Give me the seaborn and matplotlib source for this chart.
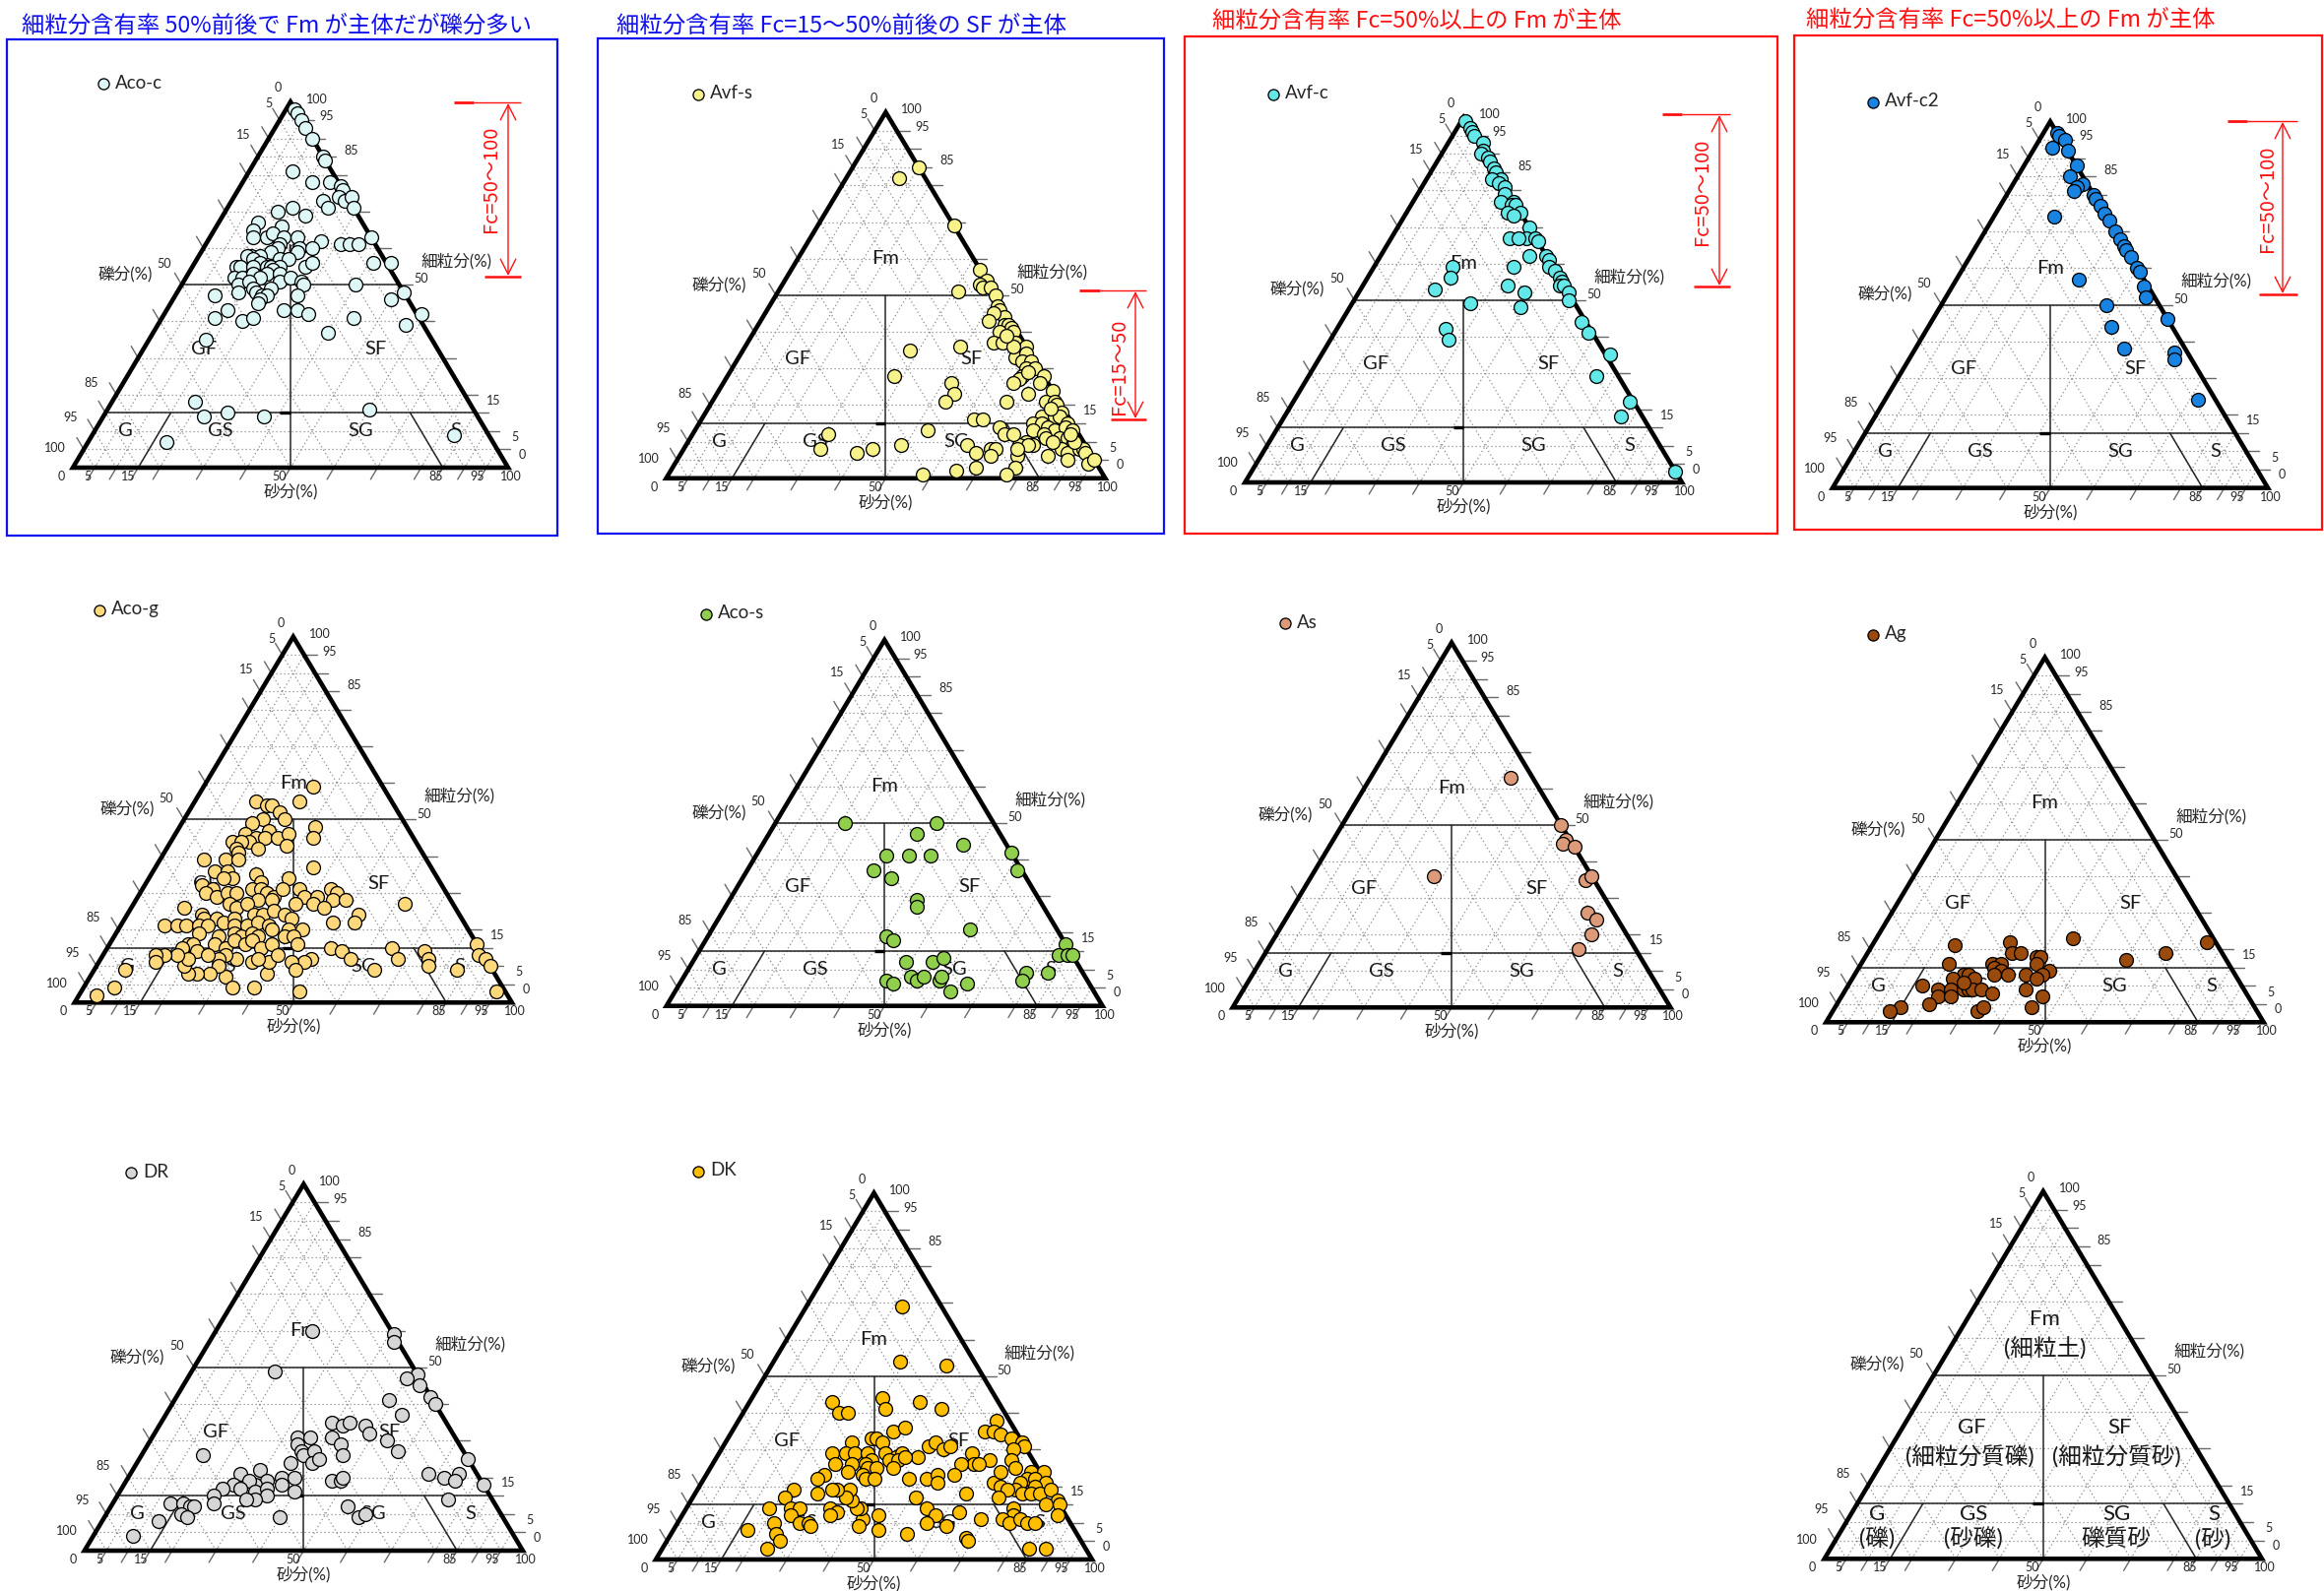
import matplotlib
matplotlib.use("Agg")
import matplotlib.pyplot as plt
import seaborn as sns
import numpy as np
import pandas as pd
from matplotlib.patches import Polygon, Rectangle

# ------------------------------------------------------------------
# Grain-size composition of each sample: sand (%) and fines (%);
# gravel (%) is the remainder 100 - sand - fines.
# ------------------------------------------------------------------
aco_c_sand = [2, 3, 5, 7, 10, 15, 16, 10, 16, 20, 23, 24, 24, 26, 27, 29, 21, 23, 15, 12,
              19, 9, 15, 9, 10, 13, 14, 17, 20, 37, 26, 31, 33, 35, 17, 17, 22, 25, 22, 12,
              16, 11, 14, 13, 10, 11, 15, 19, 21, 26, 27, 41, 45, 14, 17, 18, 20, 19, 18, 21,
              11, 13, 15, 17, 22, 24, 27, 13, 15, 17, 21, 28, 14, 18, 20, 21, 28, 40, 52, 20,
              20, 9, 27, 30, 33, 50, 59, 14, 12, 19, 21, 44, 57, 40, 13, 19, 23, 28, 37, 60,
              18, 83]
aco_c_fines = [98, 97, 95, 93, 90, 85, 84, 81, 78, 78, 77, 76, 74, 73, 74, 71, 73, 71, 71, 70,
               69, 67, 66, 65, 63, 63, 64, 63, 63, 63, 62, 61, 61, 61, 61, 60, 60, 60, 59, 58,
               59, 58, 58, 57, 55, 55, 56, 57, 57, 55, 56, 56, 56, 55, 55, 55, 55, 54, 53, 53,
               52, 52, 53, 52, 51, 52, 51, 50, 51, 49, 49, 50, 48, 48, 47, 47, 47, 50, 48, 46,
               45, 47, 43, 43, 42, 46, 42, 43, 41, 40, 41, 41, 39, 37, 35, 18, 14, 15, 14, 16,
               7, 9]

avf_s_sand = [15, 12, 31, 43, 46, 45, 46, 48, 41, 50, 52, 53, 55, 52, 56, 52, 57, 58, 56, 59,
              56, 58, 61, 64, 49, 38, 63, 65, 65, 67, 67, 69, 67, 72, 67, 66, 72, 76, 71, 76,
              78, 79, 81, 77, 80, 81, 84, 76, 78, 80, 82, 84, 77, 80, 81, 84, 86, 88, 77, 79,
              76, 78, 86, 88, 90, 91, 92, 89, 84, 94, 95, 77, 78, 77, 76, 69, 71, 73, 67, 62,
              64, 64, 67, 70, 71, 71, 69, 65, 58, 52, 54, 53, 38, 53, 49, 43, 40, 31, 31, 83,
              86, 78, 68, 61, 58, 88, 86]
avf_s_fines = [85, 82, 69, 57, 54, 53, 52, 52, 51, 50, 47, 46, 44, 45, 42, 43, 42, 41, 40, 40,
               37, 37, 37, 36, 36, 35, 33, 34, 32, 32, 30, 30, 28, 28, 27, 26, 26, 24, 23, 21,
               21, 20, 18, 17, 17, 17, 15, 15, 15, 14, 13, 14, 13, 12, 11, 11, 11, 9, 10, 9,
               9, 9, 8, 7, 8, 8, 7, 5, 6, 4, 5, 6, 3, 1, 8, 14, 12, 12, 21, 16,
               16, 9, 7, 8, 8, 6, 3, 2, 1, 26, 23, 21, 28, 13, 9, 8, 7, 12, 8, 10,
               13, 19, 29, 36, 39, 10, 12]

avf_c_sand = [1, 3, 4, 5, 8, 9, 9, 11, 12, 14, 15, 17, 15, 17, 19, 20, 23, 20, 23, 24,
              26, 23, 25, 30, 31, 27, 29, 33, 34, 34, 38, 39, 40, 42, 44, 45, 45, 46, 48, 49,
              32, 18, 19, 17, 33, 38, 27, 39, 25, 27, 55, 58, 66, 66, 77, 77, 97]
avf_c_fines = [99, 97, 96, 95, 93, 91, 90, 89, 88, 86, 85, 83, 83, 82, 81, 79, 77, 77, 76, 76,
               74, 74, 73, 70, 67, 67, 67, 67, 66, 62, 62, 61, 59, 58, 56, 55, 54, 54, 52, 50,
               59, 59, 56, 53, 54, 52, 49, 48, 42, 39, 44, 41, 35, 29, 22, 18, 3]

avf_c2_sand = [3, 4, 6, 4, 8, 12, 12, 16, 15, 15, 20, 21, 23, 25, 27, 30, 32, 34, 35, 37,
               40, 41, 14, 28, 44, 46, 38, 54, 42, 48, 60, 61, 72]
avf_c2_fines = [97, 96, 95, 93, 92, 88, 85, 83, 82, 81, 80, 79, 77, 75, 73, 70, 68, 66, 65, 63,
                60, 59, 74, 57, 55, 52, 50, 46, 44, 38, 37, 35, 24]

aco_g_sand = [25, 14, 24, 17, 18, 21, 18, 23, 16, 31, 32, 21, 16, 19, 18, 21, 21, 24, 26, 27,
              14, 16, 16, 17, 15, 18, 10, 36, 14, 17, 19, 17, 24, 26, 32, 13, 16, 15, 18, 20,
              22, 25, 27, 29, 31, 32, 28, 31, 36, 38, 41, 41, 43, 45, 45, 48, 44, 37, 62, 53,
              53, 48, 22, 24, 26, 12, 17, 18, 21, 23, 25, 29, 31, 33, 36, 38, 10, 13, 15, 18,
              20, 26, 29, 31, 34, 35, 39, 42, 19, 24, 27, 29, 31, 33, 39, 41, 18, 19, 21, 17,
              24, 27, 28, 31, 32, 35, 37, 43, 51, 54, 65, 73, 84, 86, 88, 90, 75, 76, 68, 57,
              64, 83, 95, 48, 47, 44, 46, 50, 40, 39, 40, 35, 36, 31, 28, 27, 24, 31, 28, 27,
              24, 22, 20, 20, 17, 14, 12, 13, 34, 39, 7, 7, 4]
aco_g_fines = [59, 55, 55, 54, 54, 52, 50, 50, 49, 48, 45, 47, 46, 45, 44, 45, 42, 45, 46, 43,
               44, 44, 42, 41, 39, 39, 39, 37, 36, 36, 34, 34, 35, 33, 34, 32, 31, 30, 29, 30,
               30, 31, 31, 30, 29, 31, 28, 28, 31, 29, 29, 27, 31, 30, 28, 28, 26, 27, 27, 24,
               22, 22, 27, 26, 27, 26, 24, 23, 23, 22, 23, 24, 24, 25, 24, 23, 21, 21, 21, 21,
               21, 21, 21, 22, 21, 20, 20, 20, 19, 18, 19, 18, 19, 18, 18, 18, 16, 16, 14, 15,
               16, 15, 17, 16, 17, 15, 16, 16, 15, 14, 15, 14, 16, 13, 12, 10, 12, 10, 12, 12,
               9, 9, 3, 12, 11, 11, 9, 3, 8, 11, 13, 11, 12, 12, 13, 12, 13, 7, 10, 8,
               8, 8, 10, 12, 13, 13, 13, 11, 4, 4, 9, 4, 2]

aco_s_sand = [16, 37, 34, 46, 30, 35, 40, 58, 62, 29, 34, 43, 44, 59, 41, 43, 83, 83, 85, 86,
              49, 55, 57, 52, 54, 55, 59, 59, 66, 63, 47, 49, 78, 78, 83]
aco_s_fines = [50, 50, 47, 44, 41, 41, 41, 42, 37, 37, 35, 29, 27, 21, 19, 18, 17, 14, 14, 14,
               12, 12, 13, 8, 7, 8, 7, 8, 6, 4, 7, 6, 9, 7, 9]

as_sand = [32, 50, 53, 53, 56, 63, 64, 28, 68, 71, 72, 71]
as_fines = [63, 50, 46, 45, 44, 35, 36, 36, 26, 24, 20, 16]

ag_sand = [31, 19, 45, 76, 68, 60, 33, 35, 39, 40, 40, 30, 32, 20, 44, 31, 33, 32, 35, 39,
           43, 42, 25, 26, 23, 28, 17, 21, 22, 24, 25, 27, 28, 29, 31, 34, 41, 46, 45, 33,
           34, 21, 15, 13, 26]
ag_fines = [22, 21, 23, 22, 19, 17, 19, 19, 18, 18, 16, 16, 16, 16, 14, 15, 14, 13, 13, 13,
            13, 12, 13, 13, 12, 12, 10, 9, 7, 9, 7, 9, 9, 9, 9, 8, 9, 7, 4, 3,
            4, 5, 4, 3, 11]

dr_sand = [41, 42, 22, 19, 52, 50, 54, 58, 60, 49, 54, 39, 42, 43, 47, 49, 33, 36, 41, 44,
           54, 58, 34, 36, 37, 39, 40, 41, 46, 14, 35, 75, 68, 72, 75, 75, 82, 47, 49, 49,
           29, 25, 35, 38, 36, 40, 32, 30, 28, 25, 23, 27, 31, 33, 34, 32, 30, 22, 23, 13,
           16, 18, 19, 17, 19, 13, 9, 40, 54, 58, 59, 76]
dr_fines = [59, 57, 60, 49, 48, 47, 45, 42, 40, 41, 37, 35, 34, 35, 34, 32, 31, 31, 31, 29,
            30, 27, 29, 27, 26, 27, 24, 25, 26, 26, 24, 25, 21, 20, 21, 19, 18, 19, 19, 20,
            22, 21, 20, 20, 18, 16, 19, 18, 19, 18, 17, 17, 16, 17, 15, 14, 14, 15, 13, 13,
            13, 12, 12, 10, 9, 8, 4, 9, 12, 9, 10, 14]

dk_sand = [22, 29, 40, 19, 22, 24, 30, 32, 39, 45, 59, 58, 60, 62, 65, 68, 69, 67, 68, 70,
           37, 39, 29, 33, 34, 36, 26, 29, 31, 34, 38, 41, 42, 47, 48, 51, 52, 58, 63, 60,
           61, 57, 46, 40, 42, 43, 36, 35, 36, 38, 42, 32, 28, 32, 36, 37, 39, 27, 26, 47,
           51, 53, 57, 54, 67, 67, 69, 74, 77, 74, 76, 79, 73, 77, 73, 71, 75, 77, 79, 81,
           84, 85, 82, 86, 70, 75, 62, 51, 55, 63, 58, 57, 62, 69, 68, 69, 54, 45, 47, 42,
           42, 40, 39, 37, 35, 35, 32, 31, 33, 35, 34, 28, 22, 21, 19, 24, 26, 25, 28, 30,
           31, 22, 24, 26, 17, 24, 76, 74, 76, 78, 80, 82, 84, 88]
dk_fines = [69, 54, 53, 43, 40, 40, 44, 41, 43, 41, 38, 35, 35, 34, 33, 32, 31, 30, 27, 25,
            35, 36, 32, 33, 33, 32, 29, 29, 29, 29, 29, 28, 29, 31, 32, 30, 31, 29, 27, 26,
            26, 26, 28, 27, 27, 28, 27, 26, 25, 25, 25, 26, 26, 24, 23, 22, 22, 23, 22, 22,
            22, 23, 23, 21, 21, 24, 20, 24, 24, 22, 22, 21, 21, 20, 19, 19, 18, 18, 18, 19,
            16, 15, 15, 12, 17, 14, 18, 17, 14, 13, 12, 10, 9, 11, 6, 5, 7, 12, 8, 11,
            9, 14, 14, 16, 19, 17, 19, 19, 14, 13, 12, 18, 19, 17, 14, 14, 14, 12, 10, 10,
            9, 10, 7, 5, 8, 3, 12, 11, 10, 11, 10, 10, 3, 3]

# tick values / labels on the three axes
grid_levels = [5, 10, 15, 20, 30, 40, 50, 60, 70, 80, 85, 90, 95]
labelled_values = [0, 5, 15, 50, 85, 95, 100]

# ------------------------------------------------------------------
W, H = 2360, 1616
sns.set_theme(style="white")
plt.rcParams['font.family'] = ['Lato', 'Noto Sans CJK JP', 'DejaVu Sans']
JP = ['Noto Sans CJK JP', 'DejaVu Sans']

fig = plt.figure(figsize=(W / 100, H / 100), dpi=100)
fig.patch.set_facecolor('white')

# full-figure layer (pixel coordinates) for frames, headings and arrows
bg = fig.add_axes([0, 0, 1, 1])
bg.set_xlim(0, W)
bg.set_ylim(H, 0)
bg.set_axis_off()

BLUE = '#1111EE'
RED = '#FF1111'

frames = [((7, 40), (566, 544), BLUE), ((607, 39), (1182, 542), BLUE),
          ((1203, 37), (1805, 542), RED), ((1822, 36), (2358, 538), RED)]
for (x0, y0), (x1, y1), col in frames:
    bg.add_patch(Rectangle((x0, y0), x1 - x0, y1 - y0, fill=False, ec=col, lw=1.6))

headings = [(22, 26, '細粒分含有率 50%前後で Fm が主体だが礫分多い', BLUE),
            (626, 26, '細粒分含有率 Fc=15～50%前後の SF が主体', BLUE),
            (1231, 21, '細粒分含有率 Fc=50%以上の Fm が主体', RED),
            (1834, 20, '細粒分含有率 Fc=50%以上の Fm が主体', RED)]
for x, y, txt, col in headings:
    bg.text(x, y, txt, color=col, fontsize=16.8, ha='left', va='center', family=JP)

# range markers: (thick start, thin start, right end, top y, bottom-left x, bottom y, arrow x, label)
ranges = [(461, 481, 529, 104, 492, 281, 516, 'Fc=50～100', (499, 182)),
          (1096, 1117, 1164, 295, 1128, 426, 1153, 'Fc=15～50', (1136, 372)),
          (1688, 1708, 1757, 116, 1720, 291, 1746, 'Fc=50～100', (1728, 195)),
          (2262, 2282, 2333, 123, 2294, 299, 2318, 'Fc=50～100', (2303, 202))]
for xa, xb, xc, yt, xd, yb, xarr, lab, (tx, ty) in ranges:
    bg.plot([xa, xb], [yt, yt], color=RED, lw=2.0, solid_capstyle='butt')
    bg.plot([xb, xc], [yt, yt], color=RED, lw=1.0, solid_capstyle='butt')
    bg.plot([xd, xc], [yb, yb], color=RED, lw=1.8, solid_capstyle='butt')
    bg.annotate('', xy=(xarr, yt + 1), xytext=(xarr, yb - 1),
                arrowprops=dict(arrowstyle='<->,head_length=0.55,head_width=0.28',
                                color=RED, lw=1.0, mutation_scale=20,
                                shrinkA=0, shrinkB=0))
    bg.text(tx, ty, lab, rotation=90, color=RED, fontsize=14.5,
            ha='center', va='center', family=JP)

# ------------------------------------------------------------------
right_off = {100: (6.0, 0.8), 95: (5.8, 1.0), 85: (6.5, 1.7), 50: (4.9, 1.6),
             15: (4.2, 3.4), 5: (4.1, 3.3), 0: (3.3, 3.6)}
left_off = {0: (-2.8, 3.8), 5: (-2.5, 4.5), 15: (-3.3, 6.1), 50: (-4.0, 5.8),
            85: (-3.3, 8.2), 95: (-3.1, 8.6), 100: (-4.0, 5.3)}
bottom_dx = {0: -2.7, 5: -1.7, 15: -2.2, 50: -2.5, 85: -1.6, 95: -2.0, 100: 0.6}


def ternary_axes(bl, br, base, apex):
    ax = fig.add_axes([bl / W, 1 - base / H, (br - bl) / W, (base - apex) / H])
    ax.set_xlim(0, 100)
    ax.set_ylim(0, 100)
    ax.set_axis_off()
    return ax


def draw_frame(ax):
    gkw = dict(color='#8c8c8c', lw=0.9, ls=(0, (1, 2.2)), zorder=1, clip_on=False)
    for v in grid_levels:
        ax.plot([v / 2, 100 - v / 2], [v, v], **gkw)                 # constant fines
        ax.plot([v, v + (100 - v) / 2], [0, 100 - v], **gkw)         # constant sand
        ax.plot([100 - v, (100 - v) / 2], [0, 100 - v], **gkw)       # constant gravel
    bkw = dict(color='#262626', lw=1.1, zorder=2, clip_on=False)
    ax.plot([25, 75], [50, 50], **bkw)
    ax.plot([7.5, 92.5], [15, 15], **bkw)
    ax.plot([50, 50], [0, 50], **bkw)
    ax.plot([15, 22.5], [0, 15], **bkw)
    ax.plot([85, 77.5], [0, 15], **bkw)
    ax.plot([47.6, 50], [15, 15], color='black', lw=2.4, zorder=2,
            solid_capstyle='butt', clip_on=False)
    tkw = dict(color='#6a6a6a', lw=1.0, zorder=2, clip_on=False)
    for v in grid_levels:
        ue = 50 + (100 - v) / 2
        ax.plot([ue, ue + 3], [v, v], **tkw)
        u0, f0 = (100 - v) / 2, 100 - v
        ax.plot([u0 + 0.3, u0 - 1.6], [f0 - 0.6, f0 + 3.2], **tkw)
        ax.plot([v + 0.3, v - 1.6], [0.6, -3.2], **tkw)
    ax.add_patch(Polygon([[0, 0], [50, 100], [100, 0]], closed=True, fill=False,
                         ec='black', lw=3.3, joinstyle='miter', zorder=3, clip_on=False))
    nkw = dict(fontsize=9, color='#262626', ha='center', va='center', zorder=4)
    for v in labelled_values:
        dx, dy = right_off[v]
        ax.text(50 + (100 - v) / 2 + dx, v + dy, str(v), **nkw)
        dx, dy = left_off[v]
        ax.text((100 - v) / 2 + dx, 100 - v + dy, str(v), **nkw)
        ax.text(v + bottom_dx[v], -2.4, str(v), **nkw)
    akw = dict(fontsize=12, color='#262626', ha='center', va='center', zorder=4)
    ax.text(12, 53, '礫分(%)', **akw)
    ax.text(88, 56.5, '細粒分(%)', **akw)
    ax.text(50, -6.5, '砂分(%)', **akw)


def draw_zone_names(ax):
    zkw = dict(fontsize=14.5, color='#1a1a1a', ha='center', va='center', zorder=4)
    for txt, u, f in [('Fm', 50, 60), ('GF', 30, 32.5), ('SF', 69.5, 32.5),
                      ('G', 12, 10), ('GS', 34, 10), ('SG', 66, 10), ('S', 88, 10)]:
        ax.text(u, f, txt, **zkw)


samples = {
    'Aco-c': (aco_c_sand, aco_c_fines), 'Avf-s': (avf_s_sand, avf_s_fines),
    'Avf-c': (avf_c_sand, avf_c_fines), 'Avf-c2': (avf_c2_sand, avf_c2_fines),
    'Aco-g': (aco_g_sand, aco_g_fines), 'Aco-s': (aco_s_sand, aco_s_fines),
    'As': (as_sand, as_fines), 'Ag': (ag_sand, ag_fines),
    'DR': (dr_sand, dr_fines), 'DK': (dk_sand, dk_fines),
}
fill = {'Aco-c': '#DDF7F7', 'Avf-s': '#F7F28A', 'Avf-c': '#62E8E8', 'Avf-c2': '#1883E0',
        'Aco-g': '#FFD87C', 'Aco-s': '#8FCF4C', 'As': '#DC9A78', 'Ag': '#9A4A0C',
        'DR': '#D6D6D6', 'DK': '#FFBE00'}
# triangle placement in pixels: base-left x, base-right x, base y, apex y, legend marker (x, y)
layout = {
    'Aco-c': (74, 516, 475, 103.5, (105, 84)),
    'Avf-s': (676.5, 1122.4, 485.8, 114, (709, 95)),
    'Avf-c': (1264.3, 1708, 490, 119.3, (1293, 95)),
    'Avf-c2': (1861, 2303, 495.6, 123.5, (1902, 103)),
    'Aco-g': (75.8, 519.8, 1018.3, 646.7, (101, 619)),
    'Aco-s': (676.8, 1119.6, 1021.7, 650, (717, 623)),
    'As': (1251.8, 1696.4, 1023.3, 652.7, (1305, 632)),
    'Ag': (1854.4, 2298.7, 1038.3, 667.7, (1902, 644)),
    'DR': (85.8, 530.9, 1575, 1202.7, (133, 1190)),
    'DK': (666, 1109, 1584, 1211.7, (709, 1189)),
}

for name, (sand, fines) in samples.items():
    bl, br, base, apex, (lx, ly) = layout[name]
    ax = ternary_axes(bl, br, base, apex)
    draw_frame(ax)
    draw_zone_names(ax)
    df = pd.DataFrame({'sand': sand, 'fines': fines})
    df['u'] = df['sand'] + df['fines'] / 2          # ternary projection
    sns.scatterplot(data=df, x='u', y='fines', ax=ax, color=fill[name],
                    edgecolor='black', linewidth=0.95, s=100, zorder=6,
                    clip_on=False, label=name)
    ax.set_xlim(0, 100)
    ax.set_ylim(0, 100)
    ax.set_axis_off()
    ax.legend(loc='center left', bbox_to_anchor=((lx - 6.8) / W, 1 - ly / H),
              bbox_transform=fig.transFigure, frameon=False, fontsize=13.5,
              handlelength=0.7, handletextpad=0.3, borderpad=0, borderaxespad=0,
              markerscale=0.8)

# classification key
key = ternary_axes(1852.7, 2297, 1583.3, 1210)
draw_frame(key)
for txt, u, f, fs in [('Fm', 50.4, 65.2, 16), ('(細粒土)', 50.4, 57.1, 17),
                      ('GF', 33.7, 35.7, 16), ('(細粒分質礫)', 33.3, 27.7, 17),
                      ('SF', 67.4, 35.7, 16), ('(細粒分質砂)', 66.7, 27.7, 17),
                      ('G', 12, 12.1, 16), ('(礫)', 12, 5.4, 17),
                      ('GS', 34.1, 12.1, 16), ('(砂礫)', 34.1, 5.4, 17),
                      ('SG', 66.7, 12.1, 16), ('礫質砂', 66.7, 5.4, 17),
                      ('S', 89.1, 12.1, 16), ('(砂)', 88.8, 5.4, 17)]:
    key.text(u, f, txt, fontsize=fs, color='#1a1a1a', ha='center', va='center', zorder=4)

fig.savefig('out.png', dpi=100, facecolor='white')
